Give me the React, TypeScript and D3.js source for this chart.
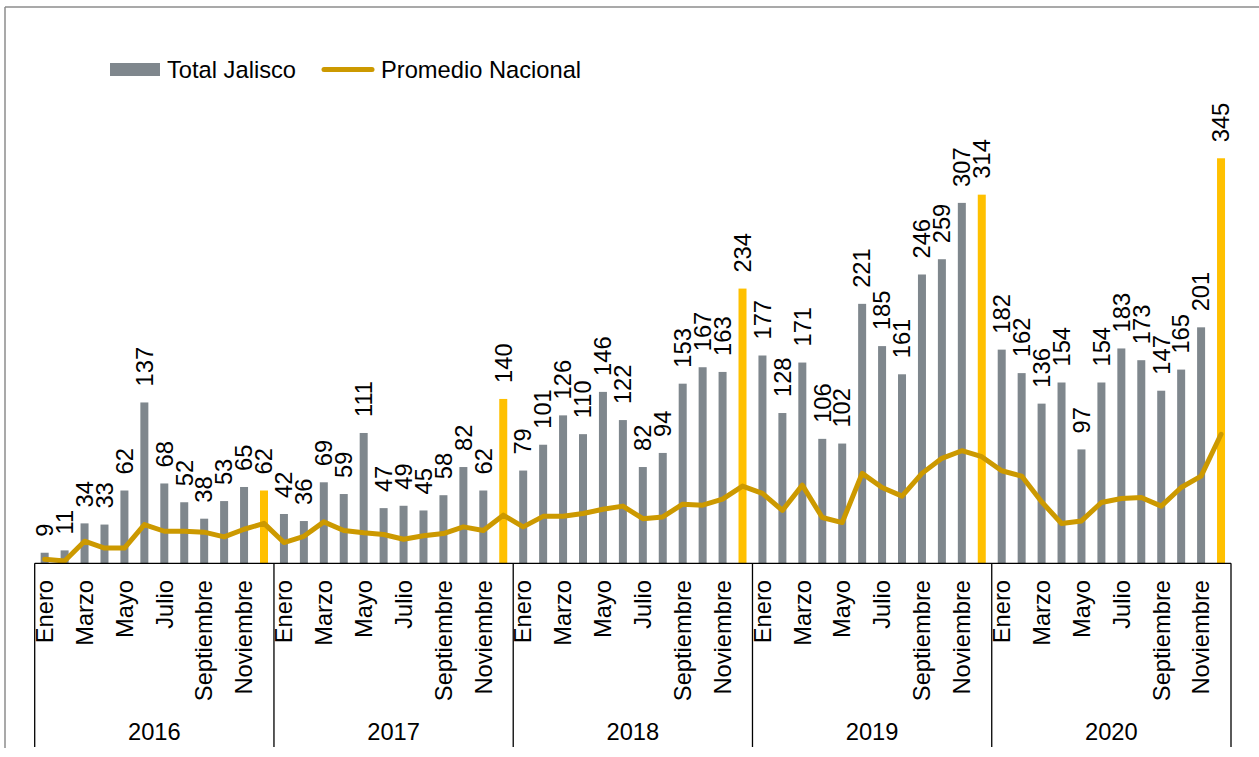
import React from "react";
import * as d3 from "d3";

const years = ["2016", "2017", "2018", "2019", "2020"];
const months = ["Enero", "Febrero", "Marzo", "Abril", "Mayo", "Junio", "Julio", "Agosto", "Septiembre", "Octubre", "Noviembre", "Diciembre"];

const totalJalisco = [
  9, 11, 34, 33, 62, 137, 68, 52, 38, 53, 65, 62,
  42, 36, 69, 59, 111, 47, 49, 45, 58, 82, 62, 140,
  79, 101, 126, 110, 146, 122, 82, 94, 153, 167, 163, 234,
  177, 128, 171, 106, 102, 221, 185, 161, 246, 259, 307, 314,
  182, 162, 136, 154, 97, 154, 183, 173, 147, 165, 201, 345,
];

const promedioNacional = [
  3.4, 2, 18.8, 13, 13, 33, 27.3, 27.3, 26.5, 22.5, 29, 34,
  17.7, 23, 35.3, 28, 26, 24.5, 20.5, 23.4, 25.3, 31, 28, 41,
  31, 40, 40, 42.4, 46, 48.7, 38, 39.5, 50.4, 49.5, 54.7, 65.8,
  59.5, 45, 66.6, 39, 34.7, 76.6, 64.6, 57.2, 76.6, 89.4, 95.9, 90.8,
  78.8, 74.3, 52.4, 33.9, 36.1, 51.8, 55.2, 56.1, 48.7, 64.6, 74.3, 109.9,
];

const seriesNames = ["Total Jalisco", "Promedio Nacional"];

const FONT = "'Liberation Sans', Arial, sans-serif";
const GREY = "#7F878D";
const YELLOW = "#FFC000";
const GOLD = "#CC9900";

export default function App() {
  const W = 1259;
  const H = 757;
  const x0 = 34.7;
  const x1 = 1231;
  const yBase = 563.3;
  const yTop = 93.7;
  const n = totalJalisco.length;

  const x = d3.scaleBand<number>().domain(d3.range(n)).range([x0, x1]).padding(0);
  const cx = (i: number) => (x(i) as number) + x.bandwidth() / 2;
  const y = d3.scaleLinear().domain([0, 400]).range([yBase, yTop]);
  const barW = 8;

  const yearX = d3.scaleBand<string>().domain(years).range([x0, x1]).padding(0);

  const line = d3
    .line<number>()
    .x((_, i) => cx(i))
    .y((d) => y(d));

  const fs = 23.7;

  return (
    <svg width={W} height={H} style={{ position: "absolute", left: 0, top: 0, background: "#fff" }} fontFamily={FONT}>
      <rect x={0} y={0} width={W} height={H} fill="#fff" />
      {/* outer frame */}
      <line x1={5} y1={7} x2={W} y2={7} stroke="#8c8c8c" strokeWidth={1.5} />
      <line x1={5} y1={7} x2={5} y2={748} stroke="#8c8c8c" strokeWidth={1.5} />

      {/* legend */}
      <rect x={110} y={63} width={50} height={13} fill={GREY} />
      <text x={167} y={78} fontSize={fs} fill="#000">{seriesNames[0]}</text>
      <line x1={324} y1={69.5} x2={372} y2={69.5} stroke={GOLD} strokeWidth={5} strokeLinecap="round" />
      <text x={381} y={78} fontSize={fs} fill="#000">{seriesNames[1]}</text>

      {/* bars */}
      {totalJalisco.map((v, i) => (
        <rect
          key={"b" + i}
          x={cx(i) - barW / 2}
          y={y(v)}
          width={barW}
          height={yBase - y(v)}
          fill={i % 12 === 11 ? YELLOW : GREY}
        />
      ))}

      {/* line */}
      <path d={line(promedioNacional) || ""} fill="none" stroke={GOLD} strokeWidth={5} strokeLinejoin="round" strokeLinecap="round" />

      {/* data labels */}
      {totalJalisco.map((v, i) => {
        const px = cx(i);
        const py = y(v) - 16;
        return (
          <text
            key={"l" + i}
            transform={`translate(${px},${py}) rotate(-90)`}
            fontSize={fs}
            dy="0.35em"
            textAnchor="start"
            fill="#000"
          >
            {v}
          </text>
        );
      })}

      {/* category axis */}
      <line x1={x0} y1={yBase} x2={x1} y2={yBase} stroke="#000" strokeWidth={1.3} />
      {years.map((yr, k) => (
        <line key={"v" + k} x1={yearX(yr) as number} y1={yBase} x2={yearX(yr) as number} y2={747} stroke="#000" strokeWidth={1.3} />
      ))}
      <line x1={x1} y1={yBase} x2={x1} y2={747} stroke="#000" strokeWidth={1.3} />

      {d3.range(n).map((i) => {
        const m = i % 12;
        if (m % 2 !== 0) return null;
        return (
          <text
            key={"m" + i}
            transform={`translate(${cx(i)},580) rotate(-90)`}
            fontSize={fs}
            dy="0.35em"
            textAnchor="end"
            fill="#000"
          >
            {months[m]}
          </text>
        );
      })}

      {years.map((yr) => (
        <text
          key={"y" + yr}
          x={(yearX(yr) as number) + yearX.bandwidth() / 2}
          y={740}
          fontSize={fs}
          textAnchor="middle"
          fill="#000"
        >
          {yr}
        </text>
      ))}
    </svg>
  );
}
